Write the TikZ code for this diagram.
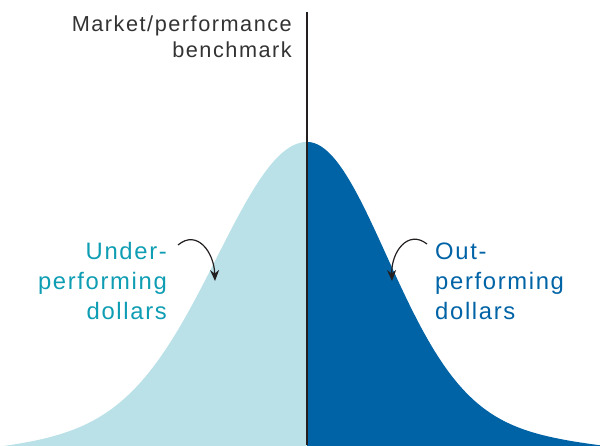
\documentclass[tikz,border=0pt]{standalone}
\usepackage{fontspec}
\setmainfont{Liberation Sans}
\newfontfamily\lblfont[LetterSpace=7]{Liberation Sans}
\usetikzlibrary{arrows.meta}
\definecolor{lightfill}{HTML}{B9E1E7}
\definecolor{darkfill}{HTML}{0063A6}
\definecolor{tealtxt}{HTML}{0E9DB3}
\definecolor{graytxt}{HTML}{333333}
\definecolor{linecol}{HTML}{231F20}
\begin{document}
\begin{tikzpicture}[x=1pt,y=-1pt,
  declare function={
    bellL(\t)=460-318*(0.85*exp(-0.5*((\t-307)/88)*((\t-307)/88))+0.15*exp(-0.5*((\t-307)/190)*((\t-307)/190)));
    bellR(\t)=460-318*(0.85*exp(-0.5*((\t-307)/78)*((\t-307)/78))+0.15*exp(-0.5*((\t-307)/190)*((\t-307)/190)));},
  toplbl/.style={font=\lblfont\fontsize{21.7}{26}\selectfont, text=graytxt, inner sep=0pt, anchor=base east},
  underlbl/.style={font=\lblfont\fontsize{23.8}{29}\selectfont, text=tealtxt, inner sep=0pt, anchor=base east},
  outlbl/.style={font=\lblfont\fontsize{23.8}{29}\selectfont, text=darkfill, inner sep=0pt, anchor=base west},
  callout/.style={draw=linecol, line width=1.2pt, -{Stealth[length=11pt,width=9pt]}},
  benchline/.style={draw=linecol, line width=2.5pt}
]
\useasboundingbox (0,0) rectangle (600,445);
\begin{scope}
\clip (0,0) rectangle (600,445);
% distribution halves
\fill[lightfill] (0,470) -- plot[domain=0:307,samples=150,smooth] (\x,{bellL(\x)}) -- (307,470) -- cycle;
\fill[darkfill] (307,470) -- plot[domain=307:600,samples=150,smooth] (\x,{bellR(\x)}) -- (600,470) -- cycle;
\end{scope}
% benchmark line
\coordinate (vtop) at (307,12);
\coordinate (vbot) at (307,445);
\draw[benchline] (vtop) -- (vbot);
% top label
\node[toplbl] (mk1) at (292,31) {Market/performance};
\node[toplbl] (mk2) at (292,57.5) {benchmark};
% under label
\node[underlbl] (u1) at (167,259) {Under-};
\node[underlbl] (u2) at (167,289) {performing};
\node[underlbl] (u3) at (167,319) {dollars};
% out label
\node[outlbl] (o1) at (435,259) {Out-};
\node[outlbl] (o2) at (435,289) {performing};
\node[outlbl] (o3) at (435,319) {dollars};
% arrows
\coordinate (ua) at (178,245);
\coordinate (ub) at (215,281);
\draw[callout] (ua) .. controls (197,229) and (214,252) .. (ub);
\coordinate (oa) at (427,244);
\coordinate (ob) at (392,281);
\draw[callout] (oa) .. controls (408,229) and (391,252) .. (ob);
\end{tikzpicture}
\end{document}
